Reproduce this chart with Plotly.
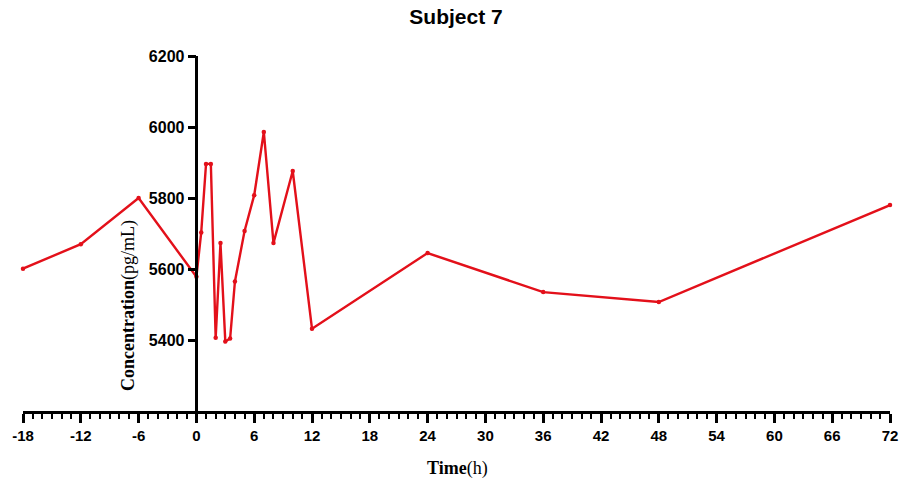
import plotly.graph_objects as go

time_h = [-18, -12, -6, 0, 0.5, 1, 1.5, 2, 2.5, 3, 3.5, 4, 5, 6, 7, 8, 10, 12, 24, 36, 48, 72]
conc = [5601, 5670, 5800, 5578, 5703, 5896, 5896, 5406, 5673, 5396, 5404, 5565, 5707, 5808, 5986, 5673, 5876, 5432, 5645, 5535, 5507, 5780]

x_ticks = list(range(-18, 73, 6))
y_ticks = [5400, 5600, 5800, 6000, 6200]
X_RANGE = [-18, 72]
Y_RANGE = [5200, 6200]

RED = "#E3101A"
xtick_font = dict(family="Liberation Sans, Arial", size=15, color="black", weight="bold")
ytick_font = dict(family="Liberation Sans, Arial", size=16, color="black", weight="bold")

L, R, T, B = 23, 14, 56, 74
W, H = 904, 485
pw = W - L - R
ph = H - T - B

fig = go.Figure()
fig.add_trace(go.Scatter(
    x=time_h, y=conc, mode="lines+markers",
    line=dict(color=RED, width=2.4),
    marker=dict(color=RED, size=4.5),
    cliponaxis=False, showlegend=False,
))

ypos = (0 - X_RANGE[0]) / (X_RANGE[1] - X_RANGE[0])

fig.update_layout(
    width=W, height=H,
    margin=dict(l=L, r=R, t=T, b=B, autoexpand=False),
    plot_bgcolor="white", paper_bgcolor="white",
    title=dict(text="<b>Subject 7</b>", x=456 / W, xanchor="center", y=1 - 17 / H, yanchor="middle",
               font=dict(family="Liberation Sans, Arial", size=21, color="black")),
    xaxis=dict(
        range=X_RANGE, tickvals=x_ticks, ticktext=[str(v) for v in x_ticks],
        showgrid=False, zeroline=False, showline=True, linecolor="black", linewidth=2.5,
        ticks="outside", ticklen=9, tickwidth=2.5, tickcolor="black",
        minor=dict(dtick=1, tick0=0, ticks="outside", ticklen=5, tickwidth=2.2, tickcolor="black", showgrid=False),
        tickfont=xtick_font, anchor="y", automargin=False,
    ),
    yaxis=dict(
        range=Y_RANGE, tickvals=y_ticks, ticktext=[str(v) for v in y_ticks],
        showgrid=False, zeroline=False, showline=True, linecolor="black", linewidth=2.5,
        ticks="outside", ticklen=8, tickwidth=2.5, tickcolor="black",
        tickfont=ytick_font, anchor="free", position=ypos, automargin=False,
    ),
    annotations=[
        dict(text="<b>Concentration</b>(pg/mL)", textangle=-90,
             x=(128 - L) / pw, y=(H - B - 306) / ph, xanchor="center", yanchor="middle",
             xref="paper", yref="paper", showarrow=False,
             font=dict(family="Liberation Serif, Times New Roman", size=18, color="black")),
        dict(text="<b>Time</b>(h)", x=(457 - L) / pw, y=(H - B - 468) / ph,
             xanchor="center", yanchor="middle", xref="paper", yref="paper",
             showarrow=False, font=dict(family="Liberation Serif, Times New Roman", size=18, color="black")),
    ],
)

fig.write_html("out.html")
